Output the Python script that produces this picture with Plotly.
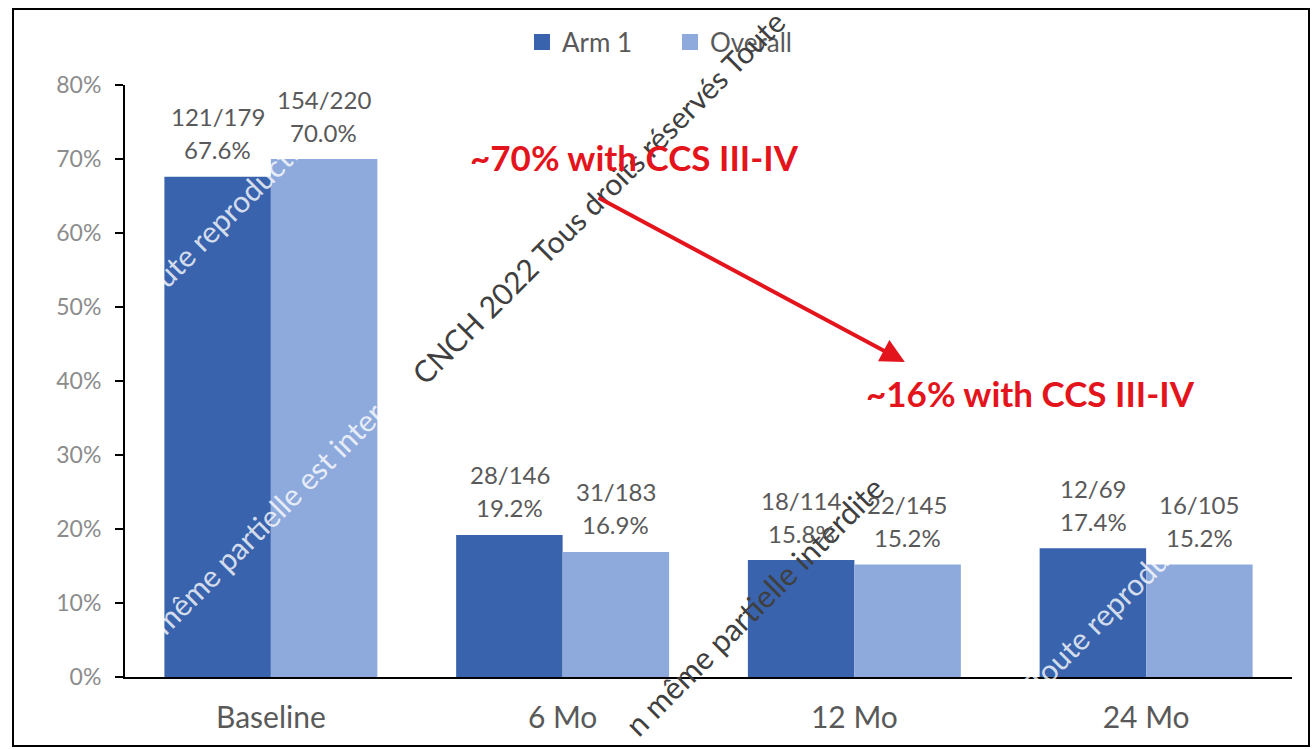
import plotly.graph_objects as go

categories = ["Baseline", "6 Mo", "12 Mo", "24 Mo"]
arm1_pct = [0.676, 0.192, 0.158, 0.174]
overall_pct = [0.700, 0.169, 0.152, 0.152]
arm1_n = ["121/179", "28/146", "18/114", "12/69"]
overall_n = ["154/220", "31/183", "22/145", "16/105"]
series_names = ["Arm 1", "Overall"]
y_ticks = [0, 0.1, 0.2, 0.3, 0.4, 0.5, 0.6, 0.7, 0.8]
callouts = ["~70% with CCS III-IV", "~16% with CCS III-IV"]

ARM_COLOR = "#3a63ad"
OVR_COLOR = "#8eaadc"
LABEL_COLOR = "#595959"
RED = "#e3141c"
FONT = "Lato"

# plot-area geometry in page pixels (used for paper-coordinate conversion)
PL, PR, PT, PB = 125, 1292, 85, 677


def paper(px, py):
    return (px - PL) / (PR - PL), (PB - py) / (PB - PT)


fig = go.Figure()
fig.add_trace(go.Bar(x=categories, y=arm1_pct, name=series_names[0], showlegend=False,
                     marker=dict(color=ARM_COLOR, line=dict(width=0))))
fig.add_trace(go.Bar(x=categories, y=overall_pct, name=series_names[1], showlegend=False,
                     marker=dict(color=OVR_COLOR, line=dict(width=0))))
# legend entries with larger square swatches
for nm, col in zip(series_names, [ARM_COLOR, OVR_COLOR]):
    fig.add_trace(go.Scatter(x=[None], y=[None], mode="markers", name=nm,
                             marker=dict(symbol="square", size=16, color=col)))

annotations = []

# watermarks (drawn first so that other labels sit on top)
wm = [
    ("CNCH 2022 Tous droits réservés Toute", 598, 197, 30, "#3f3f3f"),
    ("n même partielle interdite", 754, 606, 31, "#3f3f3f"),
    ("Toute reproduction", 226, 214, 30, "rgba(255,255,255,0.8)"),
    ("même partielle est interdite", 285, 500, 30, "rgba(255,255,255,0.8)"),
    ("Toute reproduction", 1120, 597, 30, "rgba(255,255,255,0.8)"),
]
for txt, px, py, fs, col in wm:
    x, y = paper(px, py)
    annotations.append(dict(text=txt, x=x, y=y, xref="paper", yref="paper",
                            showarrow=False, textangle=-45,
                            font=dict(family=FONT, size=fs, color=col),
                            xanchor="center", yanchor="middle"))

# data labels: count line and percentage line
for i, c in enumerate(categories):
    for pct, nlab, shift in ((arm1_pct[i], arm1_n[i], -53), (overall_pct[i], overall_n[i], 53)):
        annotations.append(dict(x=c, y=pct, xref="x", yref="y", text=f"{pct*100:.1f}%",
                                showarrow=False, xshift=shift, yshift=27,
                                yanchor="middle", xanchor="center",
                                font=dict(family=FONT, size=24, color=LABEL_COLOR)))
        annotations.append(dict(x=c, y=pct, xref="x", yref="y", text=nlab,
                                showarrow=False, xshift=shift, yshift=60,
                                yanchor="middle", xanchor="center",
                                font=dict(family=FONT, size=24, color=LABEL_COLOR)))

# red call-outs
annotations.append(dict(x=1.248, y=0.7027, xref="x", yref="y",
                        text=f"<b>{callouts[0]}</b>", showarrow=False,
                        font=dict(family=FONT, size=35, color=RED)))
annotations.append(dict(x=2.602, y=0.3838, xref="x", yref="y",
                        text=f"<b>{callouts[1]}</b>", showarrow=False,
                        font=dict(family=FONT, size=35, color=RED)))
annotations.append(dict(x=2.173, y=0.4257, ax=1.118, ay=0.6486,
                        xref="x", yref="y", axref="x", ayref="y",
                        text="", showarrow=True, arrowhead=2, arrowsize=1.2,
                        arrowwidth=4, arrowcolor=RED))

lx, ly = paper(522, 42)
fig.update_layout(
    width=1315, height=749,
    margin=dict(l=PL, r=1315 - PR, t=PT, b=749 - PB, autoexpand=False),
    paper_bgcolor="white", plot_bgcolor="white",
    barmode="group", bargap=0.27, bargroupgap=0,
    font=dict(family=FONT, color=LABEL_COLOR),
    legend=dict(orientation="h", x=lx, y=ly, xanchor="left", yanchor="middle",
                font=dict(family=FONT, size=26, color=LABEL_COLOR),
                itemwidth=30, entrywidth=103, traceorder="normal",
                bgcolor="rgba(0,0,0,0)"),
    annotations=annotations,
    showlegend=True,
)
fig.update_xaxes(showline=True, linecolor="black", linewidth=2, ticks="",
                 showgrid=False, zeroline=False, automargin=False,
                 tickfont=dict(family=FONT, size=30, color=LABEL_COLOR),
                 ticklabelstandoff=13)
fig.update_yaxes(range=[0, 0.8], tickvals=y_ticks, tickformat=".0%",
                 showline=True, linecolor="black", linewidth=2,
                 ticks="outside", ticklen=8, tickcolor="black", tickwidth=2,
                 showgrid=False, zeroline=False, automargin=False,
                 tickfont=dict(family=FONT, size=23, color="#8c8c8c"),
                 ticklabelstandoff=9)

bx0, by0 = paper(13, 746)
bx1, by1 = paper(1309, 9)
fig.add_shape(type="rect", xref="paper", yref="paper",
              x0=bx0, x1=bx1, y0=by0, y1=by1,
              line=dict(color="black", width=2), fillcolor="rgba(0,0,0,0)")

fig.write_html("out.html", config={"displayModeBar": False},
               post_script="document.body.style.margin='0px';")
